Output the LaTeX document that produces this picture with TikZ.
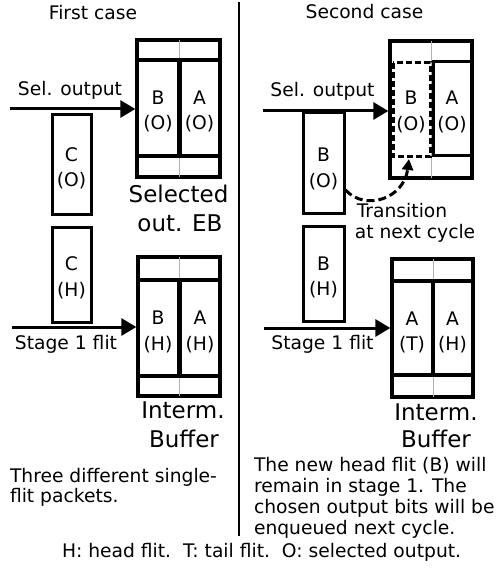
\documentclass[tikz,border=0pt]{standalone}
\usepackage{fontspec}
\setmainfont{DejaVu Sans}
\usetikzlibrary{arrows.meta,calc}
\begin{document}
\begin{tikzpicture}[x=1pt,y=-1pt,
  txt/.style={inner sep=0pt,outer sep=0pt,anchor=base,font=\fontsize{18.7}{21.5}\selectfont},
  txtl/.style={txt,anchor=base west},
  big/.style={inner sep=0pt,outer sep=0pt,anchor=base,font=\fontsize{23}{28}\selectfont},
  buf/.style={draw,line width=3.3pt,inner sep=0pt},
  flitbox/.style={draw,line width=3pt,inner sep=0pt,fill=white},
  sep/.style={line width=3.3pt},
  grayline/.style={line width=1pt,draw=black!30},
  arr/.style={line width=3pt,-{Triangle[length=15pt,width=17pt]}},
  trans/.style={line width=3pt,dash pattern=on 8pt off 4pt,-{Triangle[length=11pt,width=11pt]}},
  dbox/.style={line width=3pt,dash pattern=on 6pt off 3pt}
]
\useasboundingbox (0,0) rectangle (497,569);

% divider
\coordinate (dtop) at (239,2);
\coordinate (dbot) at (239,536);
\draw[line width=2.5pt] (dtop) -- (dbot);

% titles
\node[txt] (t1) at (93,20) {First case};
\node[txt] (t2) at (364.5,19) {Second case};

% ===== First case =====
\node[buf,minimum width=83pt,minimum height=137pt] (ebL) at (178.5,108.5) {};
\draw[grayline] (179,40) -- (179,177);
\draw[sep] (137,60) -- (220,60);
\draw[sep] (137,156) -- (220,156);
\draw[line width=5pt] (179,60) -- (179,156);
\node[txt] (ebLB) at (158,105) {B};
\node[txt] (ebLBo) at (158,130) {(O)};
\node[txt] (ebLA) at (199.5,105) {A};
\node[txt] (ebLAo) at (199.5,130) {(O)};

\coordinate (selL) at (10,109);
\draw[arr] (selL) -- (selL -| ebL.west);
\node[txt] (selLt) at (70,96) {Sel. output};

\node[flitbox,minimum width=39pt,minimum height=99pt] (cO) at (71.5,164.5) {};
\node[txt] (cOC) at (71.5,162) {C};
\node[txt] (cOo) at (71.5,186) {(O)};

\node[big] (selL1) at (178.5,203) {Selected};
\node[big] (selL2) at (180,231) {out. EB};

\node[flitbox,minimum width=39pt,minimum height=95pt] (cH) at (71.5,274.5) {};
\node[txt] (cHC) at (71.5,270.5) {C};
\node[txt] (cHh) at (71.5,296.5) {(H)};

\node[buf,minimum width=82pt,minimum height=139pt] (ibL) at (179,326.5) {};
\draw[grayline] (179,257) -- (179,396);
\draw[sep] (138,280) -- (220,280);
\draw[sep] (138,376) -- (220,376);
\draw[line width=5pt] (179,280) -- (179,376);
\node[txt] (ibLB) at (158,324) {B};
\node[txt] (ibLBh) at (158,350) {(H)};
\node[txt] (ibLA) at (200,324) {A};
\node[txt] (ibLAh) at (200,350) {(H)};

\coordinate (stL) at (12,327);
\draw[arr] (stL) -- (stL -| ibL.west);
\node[txt] (stLt) at (66,349) {Stage 1 flit};

\node[big] (ibL1) at (183,418) {Interm.};
\node[big] (ibL2) at (184,447) {Buffer};

\node[txtl] (pL1) at (10,482) {Three different single-};
\node[txtl] (pL2) at (10,502) {flit packets.};

% ===== Second case =====
\node[buf,minimum width=82pt,minimum height=137pt] (ebR) at (431,109.5) {};
\draw[grayline] (431,41) -- (431,178);
\draw[line width=3pt] (433,62) rectangle (471,156);
\draw[dbox] (393,63) rectangle (430,157);
\node[txt] (ebRB) at (411,105) {B};
\node[txt] (ebRBo) at (411,131) {(O)};
\node[txt] (ebRA) at (452,105) {A};
\node[txt] (ebRAo) at (452,131) {(O)};

\coordinate (selR) at (263,111);
\draw[arr] (selR) -- (selR -| ebR.west);
\node[txt] (selRt) at (322.5,97) {Sel. output};

\node[flitbox,minimum width=41pt,minimum height=100pt] (bO) at (323.5,163) {};
\node[txt] (bOB) at (323.5,162) {B};
\node[txt] (bOo) at (323.5,187) {(O)};

\coordinate (trEnd) at (409,159);
\draw[trans] (bO.east |- 0,190) .. controls (366,212) and (404,198) .. (trEnd);

\node[txt] (tr1) at (402,217) {Transition};
\node[txt] (tr2) at (415,238) {at next cycle};

\node[flitbox,minimum width=41pt,minimum height=95pt] (bH) at (323.5,273.5) {};
\node[txt] (bHB) at (323.5,270) {B};
\node[txt] (bHh) at (323.5,295) {(H)};

\node[buf,minimum width=81pt,minimum height=138pt] (ibR) at (432.5,328) {};
\draw[grayline] (433,259) -- (433,397);
\draw[sep] (392,281) -- (473,281);
\draw[sep] (392,375) -- (473,375);
\draw[line width=3.3pt] (433,281) -- (433,375);
\node[txt] (ibRA) at (412,325) {A};
\node[txt] (ibRAt) at (412,350) {(T)};
\node[txt] (ibRA2) at (452.5,325) {A};
\node[txt] (ibRAh) at (452.5,350) {(H)};

\coordinate (stR) at (264,328);
\draw[arr] (stR) -- (stR -| ibR.west);
\node[txt] (stRt) at (322.5,349) {Stage 1 flit};

\node[big] (ibR1) at (436,420) {Interm.};
\node[big] (ibR2) at (436,447) {Buffer};

\node[txtl] (pR1) at (254,471) {The new head flit (B) will};
\node[txtl] (pR2) at (254,492) {remain in stage 1. The};
\node[txtl] (pR3) at (254,513) {chosen output bits will be};
\node[txtl] (pR4) at (254,534) {enqueued next cycle.};

\node[txtl] (cap) at (62,557) {H: head flit.\ \ T: tail flit.\ \ O: selected output.};
\end{tikzpicture}
\end{document}
